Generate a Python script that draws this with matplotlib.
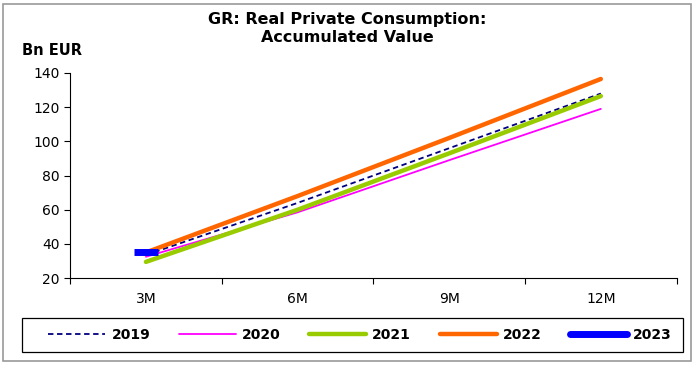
import matplotlib
matplotlib.use("Agg")
import matplotlib.pyplot as plt
from matplotlib.patches import Rectangle
from matplotlib.lines import Line2D

plt.rcParams['font.family'] = ['DejaVu Sans']

categories = ["3M", "6M", "9M", "12M"]
years = ["2019", "2020", "2021", "2022", "2023"]
values_2019 = [33.5, 64, 96, 128]
values_2020 = [32.5, 58.5, 89, 119]
values_2021 = [29.5, 60, 93, 126.5]
values_2022 = [35, 68, 102, 136.5]
values_2023 = [35]

series = [values_2019, values_2020, values_2021, values_2022, values_2023]
colors = ["#000080", "#FF00FF", "#99CC00", "#FF6600", "#0000FF"]
styles = [
    dict(ls=(0, (3, 2)), lw=1.3),
    dict(ls='-', lw=1.3),
    dict(ls='-', lw=3.2),
    dict(ls='-', lw=3.2),
    dict(ls='-', lw=4.2, marker='_', ms=17, mew=5),
]

fig = plt.figure(figsize=(6.94, 3.65), dpi=100)
# outer chart border
fig.patches.append(Rectangle((0.005, 0.01), 0.99, 0.98, transform=fig.transFigure,
                             fill=False, edgecolor='#999999', lw=1.2))
# legend box
fig.patches.append(Rectangle((0.0317, 0.0356), 0.952, 0.093, transform=fig.transFigure,
                             fill=False, edgecolor='black', lw=0.9))

ax = fig.add_axes([0.101, 0.238, 0.874, 0.562])
x = list(range(len(categories)))
handles = []
for vals, name, c, st in zip(series, years, colors, styles):
    ax.plot(x[:len(vals)], vals, color=c, solid_capstyle='round', **st)
    handles.append(Line2D([], [], color=c, ls=st['ls'], lw=st['lw'] if name != "2023" else 5,
                          solid_capstyle='round', label=name))

ax.set_xlim(-0.5, len(categories) - 0.5)
ax.set_ylim(20, 140)
ax.set_yticks(range(20, 141, 20))
ax.set_xticks(x)
ax.set_xticklabels(categories)
ax.set_xticks([i + 0.5 for i in range(-1, len(categories))], minor=True)
ax.tick_params(axis='x', which='major', length=0, pad=10, labelsize=10)
ax.tick_params(axis='x', which='minor', length=4, direction='out', width=0.8)
ax.tick_params(axis='y', length=4, direction='out', width=0.8, labelsize=10)
ax.spines['top'].set_visible(False)
ax.spines['right'].set_visible(False)
for s in ('left', 'bottom'):
    ax.spines[s].set_linewidth(0.8)

fig.text(0.5, 0.968, "GR: Real Private Consumption:\nAccumulated Value",
         ha='center', va='top', fontsize=11.5, fontweight='bold', linespacing=1.25)
fig.text(0.031, 0.863, "Bn EUR", ha='left', va='center', fontsize=10.5, fontweight='bold')

fig.legend(handles=handles, loc='center', bbox_to_anchor=(0.519, 0.082), ncol=5,
           frameon=False, handlelength=4.1,
           columnspacing=2.05, handletextpad=0.45, borderpad=0.35,
           prop={'weight': 'bold', 'size': 10})

fig.savefig("out.png", dpi=100)
